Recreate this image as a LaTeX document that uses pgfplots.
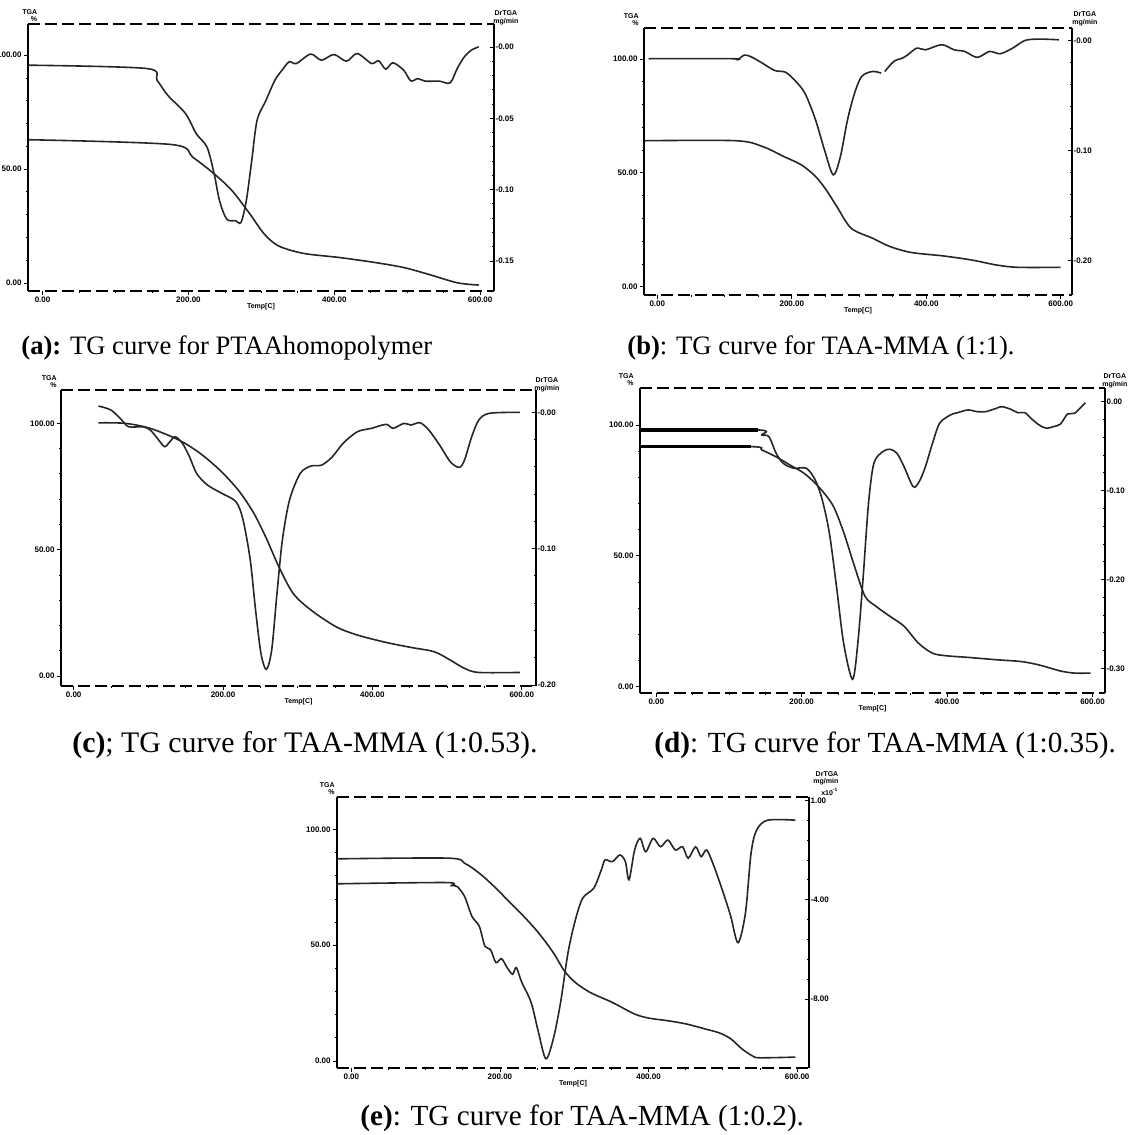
\documentclass[border=0pt]{standalone}
\usepackage{fontspec}
\setmainfont{Liberation Serif}
\setsansfont{Liberation Sans}
\usepackage{pgfplots}
\pgfplotsset{compat=1.18}

\newcommand{\tk}{\sffamily\bfseries\fontsize{4}{4.4}\selectfont}
\newcommand{\lb}{\sffamily\bfseries\fontsize{3.5}{3.6}\selectfont}

\pgfplotsset{
  tgbase/.style={scale only axis, anchor=south west, clip mode=individual,
    ticklabel style={font=\tk, inner sep=1pt},
    tick style={black, line width=0.4pt},
    major tick length=2pt, minor tick length=1pt,
    tick align=outside},
  tgl/.style={tgbase, separate axis lines,
    x axis line style={dash pattern=on 6pt off 2.5pt, line width=0.6pt},
    y axis line style={line width=0.6pt},
    xtick pos=left, ytick pos=left,
    xtick={0,200,400,600}, xticklabels={0.00,200.00,400.00,600.00},
    ytick={0,50,100}, yticklabels={0.00,50.00,100.00},
    minor x tick num=3, minor y tick num=4},
  tgr/.style={tgbase, axis x line=none, axis y line*=right,
    tick align=inside, yticklabel style={inner sep=0.6pt},
    minor y tick num=4, y axis line style={line width=0.6pt}},
  crv/.style={black!85, line width=0.8pt, smooth, tension=0.5, no marks},
}
\tikzset{
  tga/.style={font=\lb, align=right, anchor=south east, inner sep=0pt},
  drt/.style={font=\lb, align=center, anchor=south west, inner sep=0pt},
  tmp/.style={font=\lb, yshift=-8pt},
}

\begin{document}
\begin{tikzpicture}

% ---------- (a) ----------
\begin{axis}[tgl, at={(14pt,422pt)}, width=233pt, height=133.5pt,
  xmin=-20, xmax=619, ymin=-3.5, ymax=113.7]
  \addplot[crv] coordinates {
    (-19,62.9) (176.5,60.8) (205.9,55.2) (235.3,47.9) (259.9,40.5) (284.3,30.3)
    (304,21.5) (323.5,16.3) (357.8,13.0) (406.9,11.2) (455.9,9.0) (495.1,6.8)
    (529.4,3.8) (568.7,0.1) (598.1,-0.9)};
  \node[tga] at (rel axis cs:0,1) [xshift=4.75pt, yshift=1pt] {TGA\\\%};
  \node[drt] at (rel axis cs:1,1) [xshift=-0.5pt, yshift=-0.5pt] {DrTGA\\mg/min};
  \node[tmp] at (rel axis cs:0.5,0) {Temp[C]};
\end{axis}
\begin{axis}[tgr, at={(14pt,422pt)}, width=233pt, height=133.5pt,
  xmin=-20, xmax=619, ymin=-0.1711, ymax=0.0162,
  ytick={-0.15,-0.10,-0.05,0}, yticklabels={-0.15,-0.10,-0.05,-0.00}]
  \addplot[crv] coordinates {
    (-19,-0.0127) (142.2,-0.0150) (156.9,-0.0232) (171.6,-0.0338) (196.1,-0.0467)
    (210.8,-0.0608) (225.5,-0.0702) (235.3,-0.0890) (242.6,-0.1077) (252.5,-0.1207)
    (264.7,-0.1218) (272.1,-0.1230) (279.4,-0.1077) (286.8,-0.0796) (294.1,-0.0514)
    (306.4,-0.0373) (318.6,-0.0232) (328.4,-0.0162) (338.2,-0.0103) (348.0,-0.0115)
    (367.6,-0.0049) (382.4,-0.0092) (399.5,-0.0052) (416.7,-0.0099) (431.4,-0.0045)
    (451.0,-0.0115) (460.8,-0.0096) (470.6,-0.0155) (480.4,-0.0110) (495.1,-0.0162)
    (504.9,-0.0237) (514.7,-0.0221) (524.5,-0.0239) (544.1,-0.0239) (558.8,-0.0251)
    (568.6,-0.0150) (578.4,-0.0068) (588.2,-0.0021) (598.1,0.0002)};
\end{axis}

% ---------- (b) ----------
\begin{axis}[tgl, at={(322pt,420pt)}, width=214pt, height=133.5pt,
  xmin=-19.8, xmax=616.8, ymin=-3.65, ymax=113.6]
  \addplot[crv] coordinates {
    (-18.2,64.1) (116.5,64.1) (156.1,61.6) (187.8,57.2) (214.2,53.5) (235.3,48.4)
    (251.2,42.5) (267.0,35.2) (288.2,25.7) (319.9,21.3) (346.3,17.6) (378.0,15.0)
    (425.5,13.5) (467.8,11.7) (504.8,9.5) (536.5,8.5) (599.8,8.5)};
  \node[tga] at (rel axis cs:0,1) [xshift=-2.5pt, yshift=1pt] {TGA\\\%};
  \node[drt] at (rel axis cs:1,1) [xshift=0pt, yshift=1pt] {DrTGA\\mg/min};
  \node[tmp] at (rel axis cs:0.5,0) {Temp[C]};
\end{axis}
\begin{axis}[tgr, at={(322pt,420pt)}, width=214pt, height=133.5pt,
  xmin=-19.8, xmax=616.8, ymin=-0.2312, ymax=0.0113,
  ytick={-0.20,-0.10,0}, yticklabels={-0.20,-0.10,-0.00}]
  \addplot[crv] coordinates {
    (-13.0,-0.0166) (111.2,-0.0166) (119.1,-0.0175) (129.7,-0.0133) (140.3,-0.0151)
    (156.1,-0.0206) (174.6,-0.0273) (190.4,-0.0288) (203.6,-0.0357) (219.5,-0.0479)
    (235.3,-0.0721) (248.6,-0.0994) (261.7,-0.1221) (272.3,-0.1055) (282.9,-0.0721)
    (293.4,-0.0479) (304.0,-0.0327) (319.9,-0.0282) (333.0,-0.0297)};
  \addplot[crv] coordinates {
    (338.4,-0.0282) (351.6,-0.0191) (364.7,-0.0160) (372.7,-0.0130) (385.9,-0.0070)
    (399.1,-0.0085) (422.9,-0.0039) (441.4,-0.0085) (457.2,-0.0100) (475.7,-0.0154)
    (494.2,-0.0100) (510.0,-0.0121) (528.5,-0.0070) (547.0,0.0000) (568.1,0.0012)
    (597.2,0.0006)};
\end{axis}

% ---------- (c) ----------
\begin{axis}[tgl, at={(30.5pt,224.5pt)}, width=237.5pt, height=148pt,
  xmin=-16.9, xmax=619.1, ymin=-3.96, ymax=113.2]
  \addplot[crv] coordinates {
    (33.2,100.2) (69.1,100.0) (102.6,98.0) (140.8,93.4) (169.5,88.1) (198.2,80.8)
    (222.2,72.9) (241.3,64.4) (258.0,54.5) (274.7,43.3) (293.9,32.7) (317.8,26.1)
    (351.3,19.5) (380.0,16.2) (418.2,13.3) (451.7,11.3) (482.8,9.6) (504.3,6.3)
    (523.4,3.0) (542.6,1.4) (597.6,1.4)};
  \node[tga] at (rel axis cs:0,1) [xshift=-2pt, yshift=1pt] {TGA\\\%};
  \node[drt] at (rel axis cs:1,1) [xshift=-1pt, yshift=-1pt] {DrTGA\\mg/min};
  \node[tmp] at (rel axis cs:0.5,0) {Temp[C]};
\end{axis}
\begin{axis}[tgr, at={(30.5pt,224.5pt)}, width=237.5pt, height=148pt,
  xmin=-16.9, xmax=619.1, ymin=-0.2008, ymax=0.0164,
  ytick={-0.20,-0.10,0}, yticklabels={-0.20,-0.10,-0.00}]
  \addplot[crv] coordinates {
    (33.2,0.0046) (50.0,0.0017) (64.3,-0.0056) (73.9,-0.0106) (93.0,-0.0106)
    (102.6,-0.0130) (112.2,-0.0191) (121.7,-0.0252) (128.8,-0.0216) (136.0,-0.0179)
    (145.6,-0.0227) (155.2,-0.0326) (164.7,-0.0448) (179.1,-0.0533) (198.2,-0.0594)
    (217.4,-0.0656) (226.9,-0.0790) (236.5,-0.1084) (243.6,-0.1450) (250.8,-0.1768)
    (258.0,-0.1886) (265.2,-0.1744) (272.3,-0.1328) (279.5,-0.0937) (289.1,-0.0643)
    (303.4,-0.0448) (317.8,-0.0394) (332.1,-0.0387) (346.5,-0.0326) (360.8,-0.0227)
    (380.0,-0.0142) (399.1,-0.0117) (418.2,-0.0088) (427.8,-0.0117) (442.2,-0.0081)
    (451.7,-0.0093) (463.7,-0.0076) (475.6,-0.0130) (490.0,-0.0240) (504.3,-0.0362)
    (516.2,-0.0404) (523.4,-0.0350) (533.0,-0.0179) (542.6,-0.0056) (556.9,-0.0007)
    (597.6,0.0000)};
\end{axis}

% ---------- (d) ----------
\begin{axis}[tgl, at={(320pt,221pt)}, width=232.5pt, height=152.5pt,
  xmin=-22.4, xmax=617.2, ymin=-2.4, ymax=114.1]
  \addplot[crv] coordinates {
    (-22,91.7) (130.6,91.7) (145.2,90.4) (164.8,87.8) (184.4,84.6) (203.9,81.4)
    (223.5,76.3) (243.0,69.2) (257.7,59.0) (272.4,46.2) (287.0,34.6) (301.7,30.8)
    (321.3,26.9) (340.8,23.1) (360.4,16.7) (379.9,12.8) (399.5,11.8) (428.8,11.2)
    (468.0,10.3) (502.2,9.6) (526.6,8.3) (556.0,6.0) (575.5,5.2) (597.5,5.2)};
  \addplot[black, line width=1.8pt, no marks] coordinates {(-22,91.7) (130.6,91.7)};
  \node[tga] at (rel axis cs:0,1) [xshift=-3pt, yshift=1pt] {TGA\\\%};
  \node[drt] at (rel axis cs:1,1) [xshift=-1.5pt, yshift=0pt] {DrTGA\\mg/min};
  \node[tmp] at (rel axis cs:0.5,0) {Temp[C]};
\end{axis}
\begin{axis}[tgr, at={(320pt,221pt)}, width=232.5pt, height=152.5pt,
  xmin=-22.4, xmax=617.2, ymin=-0.3277, ymax=0.0154,
  ytick={-0.30,-0.20,-0.10,0}, yticklabels={-0.30,-0.20,-0.10,0.00}]
  \addplot[crv] coordinates {
    (-22,-0.0318) (140.3,-0.0318) (145.2,-0.0375) (155.0,-0.0394) (164.8,-0.0580)
    (174.6,-0.0693) (189.2,-0.0749) (206.3,-0.0749) (218.6,-0.0881) (228.3,-0.1106)
    (238.1,-0.1480) (247.9,-0.2081) (257.7,-0.2718) (269.9,-0.3123) (277.2,-0.2718)
    (284.6,-0.1968) (291.9,-0.1143) (299.3,-0.0693) (311.5,-0.0562) (321.3,-0.0535)
    (331.0,-0.0580) (340.8,-0.0731) (350.6,-0.0918) (355.5,-0.0963) (362.8,-0.0881)
    (370.2,-0.0731) (379.9,-0.0468) (389.7,-0.0243) (404.4,-0.0150) (414.2,-0.0124)
    (428.8,-0.0093) (441.1,-0.0112) (453.3,-0.0112) (468.0,-0.0074) (475.3,-0.0056)
    (487.5,-0.0085) (497.3,-0.0124) (507.1,-0.0124) (516.9,-0.0198) (526.6,-0.0262)
    (536.4,-0.0299) (546.2,-0.0281) (556.0,-0.0251) (565.7,-0.0138) (575.5,-0.0130)
    (590.2,-0.0011)};
  \addplot[black, line width=1.8pt, no marks] coordinates {(-22,-0.0318) (140.3,-0.0318)};
\end{axis}

% ---------- (e) ----------
\begin{axis}[tgl, at={(168.5pt,33.5pt)}, width=236pt, height=135.5pt,
  xmin=-19.3, xmax=615.9, ymin=-3.0, ymax=114.0]
  \addplot[crv] coordinates {
    (-19.3,87.3) (130.0,87.6) (152.4,85.4) (172.2,81.1) (192.1,75.4) (212.1,68.9)
    (231.9,62.5) (251.8,55.4) (271.8,46.8) (286.7,38.9) (301.6,33.9) (321.5,29.6)
    (351.3,25.3) (381.2,20.3) (401.0,18.5) (426.0,17.4) (450.9,16.0) (475.7,13.9)
    (495.7,12.1) (510.6,9.6) (525.5,5.3) (540.4,2.1) (550.3,1.4) (597.6,1.7)};
  \node[tga] at (rel axis cs:0,1) [xshift=-1pt, yshift=1pt] {TGA\\\%};
  \node[drt, align=right] at (rel axis cs:1,1) [xshift=2pt, yshift=0.5pt] {DrTGA\\mg/min\\[0.4pt]x10\textsuperscript{-1}};
  \node[tmp] at (rel axis cs:0.5,0) {Temp[C]};
\end{axis}
\begin{axis}[tgr, at={(168.5pt,33.5pt)}, width=236pt, height=135.5pt,
  xmin=-19.3, xmax=615.9, ymin=-10.77, ymax=0.132,
  ytick={-8,-4,0}, yticklabels={-8.00,-4.00,1.00}]
  \addplot[crv] coordinates {
    (-19.3,-3.36) (127.5,-3.31) (134.9,-3.43) (142.4,-3.47) (152.4,-3.87) (162.3,-4.67)
    (172.2,-5.07) (179.7,-5.87) (187.2,-6.00) (194.6,-6.53) (202.1,-6.37) (209.6,-6.73)
    (217.0,-7.00) (222.0,-6.73) (229.4,-7.33) (241.9,-8.13) (251.8,-9.33) (261.8,-10.40)
    (271.8,-9.60) (281.6,-8.13) (291.6,-6.13) (301.6,-4.80) (311.5,-3.93) (326.4,-3.53)
    (336.4,-2.80) (341.4,-2.40) (351.3,-2.47) (361.3,-2.20) (368.8,-2.47) (373.7,-3.20)
    (381.2,-2.00) (388.7,-1.53) (396.1,-2.07) (406.1,-1.53) (416.0,-1.87) (426.0,-1.60)
    (436.0,-2.00) (445.8,-1.87) (453.3,-2.33) (463.3,-1.87) (470.7,-2.27) (478.2,-2.00)
    (488.2,-2.67) (500.6,-3.73) (510.6,-4.67) (520.4,-5.73) (530.4,-4.53) (537.9,-2.13)
    (545.4,-1.20) (560.3,-0.80) (597.6,-0.80)};
\end{axis}

% ---------- captions ----------
\node[anchor=base west, inner sep=0pt, font=\fontsize{13.3}{15}\selectfont] at (10.5pt,390pt) {\textbf{(a):} TG curve for PTAAhomopolymer};
\node[anchor=base west, inner sep=0pt, font=\fontsize{13.3}{15}\selectfont] at (313.5pt,390pt) {\textbf{(b)}: TG curve for TAA-MMA (1:1).};
\node[anchor=base west, inner sep=0pt, font=\fontsize{14.9}{17}\selectfont] at (36pt,191pt) {\textbf{(c)}; TG curve for TAA-MMA (1:0.53).};
\node[anchor=base west, inner sep=0pt, font=\fontsize{14.6}{17}\selectfont] at (327pt,191pt) {\textbf{(d)}: TG curve for TAA-MMA (1:0.35).};
\node[anchor=base west, inner sep=0pt, font=\fontsize{14.6}{17}\selectfont] at (180pt,5pt) {\textbf{(e)}: TG curve for TAA-MMA (1:0.2).};

\pgfresetboundingbox
\path[use as bounding box] (0,0) rectangle (564pt,567.5pt);
\end{tikzpicture}
\end{document}
